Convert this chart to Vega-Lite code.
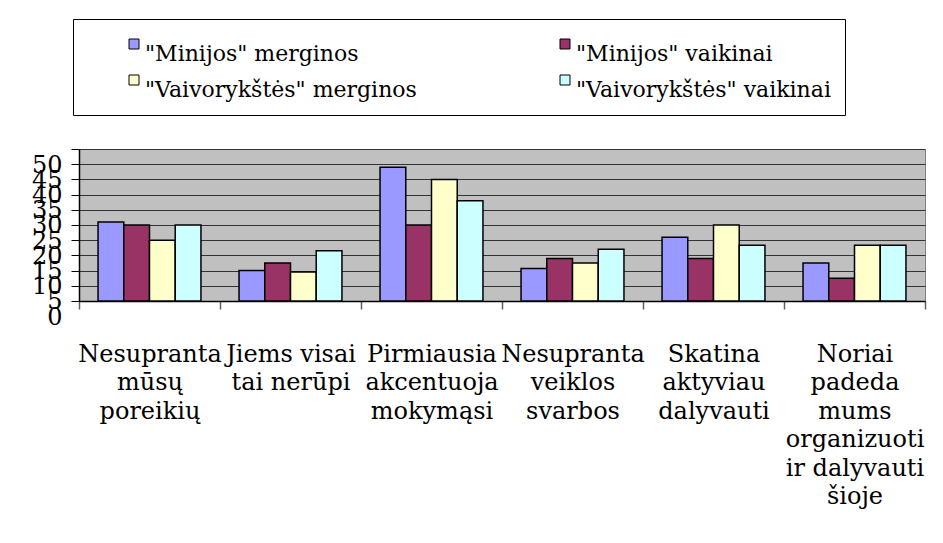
{
  "$schema": "https://vega.github.io/schema/vega-lite/v6.json",
  "width": 846,
  "height": 152,
  "autosize": "none",
  "padding": {"left": 79, "top": 149, "right": 18, "bottom": 242},
  "background": "white",
  "config": {
    "font": "DejaVu Serif",
    "view": {"fill": "#C0C0C0", "stroke": "#808080", "strokeWidth": 1},
    "legend": {"labelFont": "DejaVu Serif", "titleFont": "DejaVu Serif"}
  },
  "data": {
    "values": [
      {"cat": "Nesupranta mūsų poreikių", "group": "\"Minijos\" merginos", "value": 26},
      {"cat": "Nesupranta mūsų poreikių", "group": "\"Minijos\" vaikinai", "value": 25},
      {"cat": "Nesupranta mūsų poreikių", "group": "\"Vaivorykštės\" merginos", "value": 20},
      {"cat": "Nesupranta mūsų poreikių", "group": "\"Vaivorykštės\" vaikinai", "value": 25},
      {"cat": "Jiems visai tai nerūpi", "group": "\"Minijos\" merginos", "value": 10},
      {"cat": "Jiems visai tai nerūpi", "group": "\"Minijos\" vaikinai", "value": 12.5},
      {"cat": "Jiems visai tai nerūpi", "group": "\"Vaivorykštės\" merginos", "value": 9.5},
      {"cat": "Jiems visai tai nerūpi", "group": "\"Vaivorykštės\" vaikinai", "value": 16.5},
      {"cat": "Pirmiausia akcentuoja mokymąsi", "group": "\"Minijos\" merginos", "value": 44},
      {"cat": "Pirmiausia akcentuoja mokymąsi", "group": "\"Minijos\" vaikinai", "value": 25},
      {"cat": "Pirmiausia akcentuoja mokymąsi", "group": "\"Vaivorykštės\" merginos", "value": 40},
      {"cat": "Pirmiausia akcentuoja mokymąsi", "group": "\"Vaivorykštės\" vaikinai", "value": 33},
      {"cat": "Nesupranta veiklos svarbos", "group": "\"Minijos\" merginos", "value": 10.7},
      {"cat": "Nesupranta veiklos svarbos", "group": "\"Minijos\" vaikinai", "value": 14},
      {"cat": "Nesupranta veiklos svarbos", "group": "\"Vaivorykštės\" merginos", "value": 12.5},
      {"cat": "Nesupranta veiklos svarbos", "group": "\"Vaivorykštės\" vaikinai", "value": 17},
      {"cat": "Skatina aktyviau dalyvauti", "group": "\"Minijos\" merginos", "value": 21},
      {"cat": "Skatina aktyviau dalyvauti", "group": "\"Minijos\" vaikinai", "value": 14},
      {"cat": "Skatina aktyviau dalyvauti", "group": "\"Vaivorykštės\" merginos", "value": 25},
      {"cat": "Skatina aktyviau dalyvauti", "group": "\"Vaivorykštės\" vaikinai", "value": 18.3},
      {"cat": "Noriai padeda mums organizuoti ir dalyvauti šioje", "group": "\"Minijos\" merginos", "value": 12.5},
      {"cat": "Noriai padeda mums organizuoti ir dalyvauti šioje", "group": "\"Minijos\" vaikinai", "value": 7.5},
      {"cat": "Noriai padeda mums organizuoti ir dalyvauti šioje", "group": "\"Vaivorykštės\" merginos", "value": 18.3},
      {"cat": "Noriai padeda mums organizuoti ir dalyvauti šioje", "group": "\"Vaivorykštės\" vaikinai", "value": 18.3}
    ]
  },
  "mark": {"type": "bar", "stroke": "#000000", "strokeWidth": 1.5},
  "encoding": {
    "x": {
      "field": "cat",
      "type": "nominal",
      "sort": null,
      "scale": {"paddingInner": 0, "paddingOuter": 0},
      "axis": {
        "title": null,
        "labelAngle": 0,
        "tickBand": "extent",
        "grid": false,
        "domainColor": "#000000",
        "domainWidth": 1.5,
        "tickColor": "#606060",
        "tickSize": 8,
        "tickWidth": 1.5,
        "labelFont": "DejaVu Serif",
        "labelFontSize": 24,
        "labelColor": "#000000",
        "labelLineHeight": 28.5,
        "labelBaseline": "top",
        "labelPadding": 33,
        "labelLimit": 0,
        "labelOverlap": false,
        "labelBound": false,
        "labelExpr": "{'Nesupranta mūsų poreikių': ['Nesupranta', 'mūsų', 'poreikių'], 'Jiems visai tai nerūpi': ['Jiems visai', 'tai nerūpi'], 'Pirmiausia akcentuoja mokymąsi': ['Pirmiausia', 'akcentuoja', 'mokymąsi'], 'Nesupranta veiklos svarbos': ['Nesupranta', 'veiklos', 'svarbos'], 'Skatina aktyviau dalyvauti': ['Skatina', 'aktyviau', 'dalyvauti'], 'Noriai padeda mums organizuoti ir dalyvauti šioje': ['Noriai', 'padeda', 'mums', 'organizuoti', 'ir dalyvauti', 'šioje']}[datum.label]"
      }
    },
    "xOffset": {
      "field": "group",
      "type": "nominal",
      "sort": null,
      "scale": {"paddingInner": 0, "paddingOuter": 0.74}
    },
    "y": {
      "field": "value",
      "type": "quantitative",
      "scale": {"domain": [0, 50], "nice": false},
      "axis": {
        "title": null,
        "values": [0, 5, 10, 15, 20, 25, 30, 35, 40, 45, 50],
        "grid": true,
        "gridColor": "#333333",
        "gridWidth": 1,
        "domainColor": "#000000",
        "domainWidth": 1.5,
        "tickColor": "#000000",
        "tickSize": 8,
        "labelFont": "DejaVu Serif",
        "labelFontSize": 24,
        "labelColor": "#000000",
        "labelPadding": 9,
        "labelOffset": 16,
        "labelOverlap": false,
        "labelFlush": false,
        "labelBound": false
      }
    },
    "fill": {
      "field": "group",
      "type": "nominal",
      "sort": null,
      "scale": {
        "domain": ["\"Minijos\" merginos", "\"Minijos\" vaikinai", "\"Vaivorykštės\" merginos", "\"Vaivorykštės\" vaikinai"],
        "range": ["#9999FF", "#993366", "#FFFFCC", "#CCFFFF"]
      },
      "legend": {
        "title": null,
        "orient": "none",
        "legendX": -6,
        "legendY": -130,
        "columns": 2,
        "direction": "horizontal",
        "gridAlign": "all",
        "strokeColor": "#000000",
        "fillColor": "#FFFFFF",
        "padding": 14,
        "symbolOffset": 36,
        "symbolType": "square",
        "symbolSize": 100,
        "symbolStrokeColor": "#000000",
        "symbolStrokeWidth": 1,
        "labelFont": "DejaVu Serif",
        "labelFontSize": 22,
        "labelColor": "#000000",
        "labelBaseline": "top",
        "labelOffset": 0,
        "labelLimit": 0,
        "columnPadding": 101,
        "rowPadding": 4
      }
    }
  }
}
